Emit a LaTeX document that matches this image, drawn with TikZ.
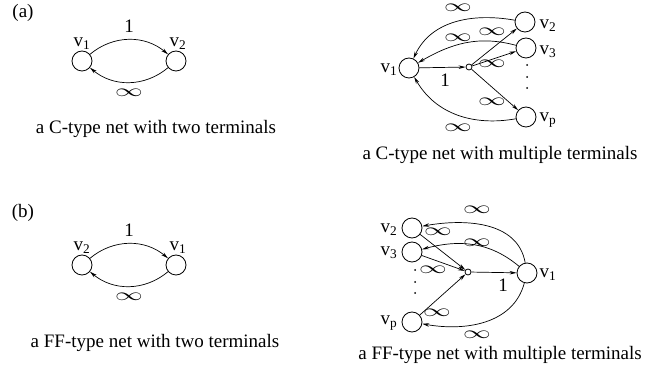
\documentclass[tikz,border=0pt]{standalone}
\usepackage{fontspec}
\setmainfont{Liberation Serif}
\usetikzlibrary{arrows.meta}
\begin{document}
\begin{tikzpicture}[x=1pt,y=1pt,
  every node/.style={font=\fontsize{19}{22}\selectfont},
  term/.style={circle,draw,line width=0.8pt,minimum size=20pt,inner sep=0pt},
  hub/.style={circle,draw,line width=0.8pt,minimum size=6pt,inner sep=0pt},
  lbl/.style={inner sep=0pt},
  edge/.style={line width=0.7pt,-{Stealth[length=7pt,width=3.5pt]}},
  dotm/.style={circle,fill,inner sep=0pt,minimum size=2pt}]
\useasboundingbox (0,0) rectangle (662,383);
\newcommand{\vx}[1]{v\textsubscript{#1}}
\newcommand{\inff}{\scalebox{1.6}[1.0]{$\infty$}}
% ---------- (a) two terminals
\node[lbl] (ta) at (23,370) {(a)};
\node[term] (a1) at (82,322) {};
\node[term] (a2) at (176,322) {};
\node[lbl] (la1) at (82,339) {\vx{1}};
\node[lbl] (la2) at (178,339) {\vx{2}};
\draw[edge] (a1) to[bend left=40] node[lbl,above=7pt] (one1) {1} (a2);
\draw[edge] (a2) to[bend left=40] node[lbl,below=6pt] (inf1) {\inff} (a1);
\node[lbl] (ca) at (156,254) {a C-type net with two terminals};
% ---------- (a) multiple terminals
\node[term] (b1) at (409,315) {};
\node[hub] (bs) at (469,316) {};
\node[term] (b2) at (525,361) {};
\node[term] (b3) at (526,335) {};
\node[term] (bp) at (526,266) {};
\node[lbl] (lb1) at (389,313) {\vx{1}};
\node[lbl] (lb2) at (548,357) {\vx{2}};
\node[lbl] (lb3) at (548,331) {\vx{3}};
\node[lbl] (lbp) at (548,263) {\vx{p}};
\node[dotm] (bd1) at (527,318) {};
\node[dotm] (bd2) at (527,306) {};
\node[dotm] (bd3) at (527,295) {};
\draw[edge] (b1) -- (bs);
\node[lbl] (bone) at (445,303) {1};
\draw[edge] (bs) -- (b2);
\draw[edge] (bs) -- (b3);
\draw[edge] (bs) -- (bp);
\draw[edge] (b2) to[out=170,in=65] (b1);
\draw[edge] (b3) to[out=165,in=30] (b1);
\draw[edge] (bp) to[out=190,in=-60] (b1);
\node[lbl] (bi1) at (458,375) {\inff};
\node[lbl] (bi2) at (458,345) {\inff};
\node[lbl] (bi3) at (458,255) {\inff};
\node[lbl] (bi4) at (492,351) {\inff};
\node[lbl] (bi5) at (492,319) {\inff};
\node[lbl] (bi6) at (492,281) {\inff};
\node[lbl] (cb) at (500,228) {a C-type net with multiple terminals};
% ---------- (b) two terminals
\node[lbl] (tb) at (23,170) {(b)};
\node[term] (c2) at (82,118) {};
\node[term] (c1) at (176,118) {};
\node[lbl] (lc2) at (82,135) {\vx{2}};
\node[lbl] (lc1) at (178,135) {\vx{1}};
\draw[edge] (c2) to[bend left=40] node[lbl,above=7pt] (one2) {1} (c1);
\draw[edge] (c1) to[bend left=40] node[lbl,below=6pt] (inf2) {\inff} (c2);
\node[lbl] (cc) at (155,40) {a FF-type net with two terminals};
% ---------- (b) multiple terminals
\node[term] (d2) at (412,155) {};
\node[term] (d3) at (412,131) {};
\node[term] (dp) at (412,61) {};
\node[hub] (ds) at (468,111) {};
\node[term] (d1) at (527,110) {};
\node[lbl] (ld2) at (389,153) {\vx{2}};
\node[lbl] (ld3) at (389,130) {\vx{3}};
\node[lbl] (ldp) at (389,60) {\vx{p}};
\node[lbl] (ld1) at (548,108) {\vx{1}};
\node[dotm] (dd1) at (415,113) {};
\node[dotm] (dd2) at (415,101) {};
\node[dotm] (dd3) at (415,90) {};
\draw[edge] (d2) -- (ds);
\draw[edge] (d3) -- (ds);
\draw[edge] (dp) -- (ds);
\draw[edge] (ds) -- (d1);
\node[lbl] (done) at (503,98) {1};
\draw[edge] (d1) to[out=100,in=10] (d2);
\draw[edge] (d1) to[out=140,in=15] (d3);
\draw[edge] (d1) to[out=-105,in=-10] (dp);
\node[lbl] (di1) at (477,173) {\inff};
\node[lbl] (di2) at (438,151) {\inff};
\node[lbl] (di3) at (477,140) {\inff};
\node[lbl] (di4) at (433,113) {\inff};
\node[lbl] (di5) at (437,70) {\inff};
\node[lbl] (di6) at (477,48) {\inff};
\node[lbl] (cd) at (500,28) {a FF-type net with multiple terminals};
\end{tikzpicture}
\end{document}
